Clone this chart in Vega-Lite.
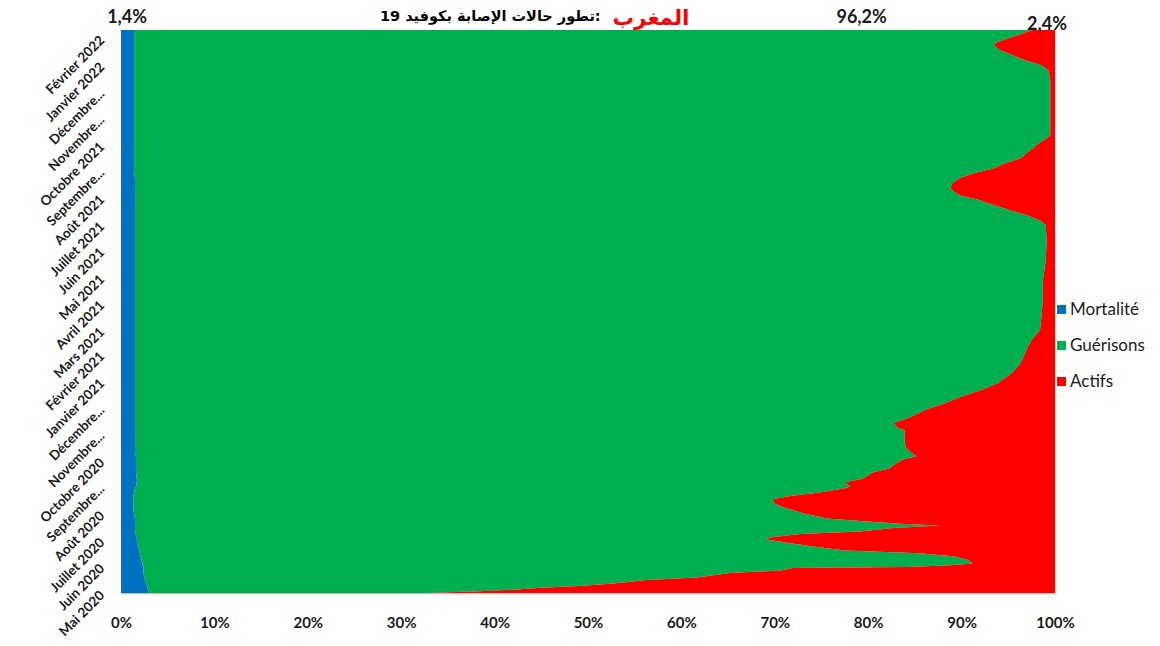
{
  "$schema": "https://vega.github.io/schema/vega-lite/v6.json",
  "width": 934,
  "height": 563,
  "autosize": {"type": "none"},
  "padding": {"left": 121, "top": 30, "right": 105, "bottom": 53},
  "background": "white",
  "title": {
    "text": "\u200f:تطور حالات الإصابة بكوفيد 19",
    "anchor": "start",
    "frame": "group",
    "dx": 259,
    "dy": 21,
    "offset": 4,
    "font": "DejaVu Sans",
    "fontSize": 14.5,
    "fontWeight": "bold",
    "color": "#000000"
  },
  "data": {
    "values": [
      {"date": "2020-05-01", "Mortalité": 0.029, "Guérisons": 0.299, "Actifs": 0.672},
      {"date": "2020-05-03", "Mortalité": 0.029, "Guérisons": 0.355, "Actifs": 0.616},
      {"date": "2020-05-05", "Mortalité": 0.029, "Guérisons": 0.395, "Actifs": 0.576},
      {"date": "2020-05-07", "Mortalité": 0.028, "Guérisons": 0.421, "Actifs": 0.551},
      {"date": "2020-05-09", "Mortalité": 0.028, "Guérisons": 0.463, "Actifs": 0.509},
      {"date": "2020-05-12", "Mortalité": 0.027, "Guérisons": 0.500, "Actifs": 0.473},
      {"date": "2020-05-16", "Mortalité": 0.026, "Guérisons": 0.537, "Actifs": 0.437},
      {"date": "2020-05-19", "Mortalité": 0.025, "Guérisons": 0.592, "Actifs": 0.383},
      {"date": "2020-05-24", "Mortalité": 0.024, "Guérisons": 0.628, "Actifs": 0.348},
      {"date": "2020-05-27", "Mortalité": 0.024, "Guérisons": 0.682, "Actifs": 0.294},
      {"date": "2020-05-30", "Mortalité": 0.024, "Guérisons": 0.695, "Actifs": 0.281},
      {"date": "2020-05-31", "Mortalité": 0.024, "Guérisons": 0.818, "Actifs": 0.158},
      {"date": "2020-06-02", "Mortalité": 0.023, "Guérisons": 0.865, "Actifs": 0.112},
      {"date": "2020-06-04", "Mortalité": 0.023, "Guérisons": 0.889, "Actifs": 0.088},
      {"date": "2020-06-08", "Mortalité": 0.022, "Guérisons": 0.885, "Actifs": 0.093},
      {"date": "2020-06-12", "Mortalité": 0.021, "Guérisons": 0.872, "Actifs": 0.107},
      {"date": "2020-06-16", "Mortalité": 0.020, "Guérisons": 0.835, "Actifs": 0.145},
      {"date": "2020-06-19", "Mortalité": 0.020, "Guérisons": 0.755, "Actifs": 0.225},
      {"date": "2020-06-22", "Mortalité": 0.019, "Guérisons": 0.735, "Actifs": 0.246},
      {"date": "2020-06-25", "Mortalité": 0.018, "Guérisons": 0.714, "Actifs": 0.268},
      {"date": "2020-06-28", "Mortalité": 0.017, "Guérisons": 0.696, "Actifs": 0.287},
      {"date": "2020-07-02", "Mortalité": 0.017, "Guérisons": 0.673, "Actifs": 0.310},
      {"date": "2020-07-04", "Mortalité": 0.016, "Guérisons": 0.679, "Actifs": 0.305},
      {"date": "2020-07-08", "Mortalité": 0.016, "Guérisons": 0.711, "Actifs": 0.273},
      {"date": "2020-07-11", "Mortalité": 0.015, "Guérisons": 0.776, "Actifs": 0.209},
      {"date": "2020-07-15", "Mortalité": 0.015, "Guérisons": 0.812, "Actifs": 0.173},
      {"date": "2020-07-18", "Mortalité": 0.015, "Guérisons": 0.862, "Actifs": 0.123},
      {"date": "2020-07-20", "Mortalité": 0.015, "Guérisons": 0.819, "Actifs": 0.166},
      {"date": "2020-07-23", "Mortalité": 0.015, "Guérisons": 0.776, "Actifs": 0.209},
      {"date": "2020-07-26", "Mortalité": 0.015, "Guérisons": 0.741, "Actifs": 0.244},
      {"date": "2020-08-01", "Mortalité": 0.014, "Guérisons": 0.716, "Actifs": 0.270},
      {"date": "2020-08-08", "Mortalité": 0.013, "Guérisons": 0.696, "Actifs": 0.291},
      {"date": "2020-08-12", "Mortalité": 0.013, "Guérisons": 0.687, "Actifs": 0.300},
      {"date": "2020-08-17", "Mortalité": 0.013, "Guérisons": 0.684, "Actifs": 0.303},
      {"date": "2020-08-21", "Mortalité": 0.013, "Guérisons": 0.703, "Actifs": 0.284},
      {"date": "2020-08-25", "Mortalité": 0.014, "Guérisons": 0.734, "Actifs": 0.252},
      {"date": "2020-08-30", "Mortalité": 0.015, "Guérisons": 0.760, "Actifs": 0.225},
      {"date": "2020-09-01", "Mortalité": 0.016, "Guérisons": 0.765, "Actifs": 0.219},
      {"date": "2020-09-06", "Mortalité": 0.017, "Guérisons": 0.758, "Actifs": 0.225},
      {"date": "2020-09-10", "Mortalité": 0.017, "Guérisons": 0.777, "Actifs": 0.206},
      {"date": "2020-09-17", "Mortalité": 0.016, "Guérisons": 0.789, "Actifs": 0.195},
      {"date": "2020-09-22", "Mortalité": 0.016, "Guérisons": 0.807, "Actifs": 0.177},
      {"date": "2020-09-27", "Mortalité": 0.016, "Guérisons": 0.813, "Actifs": 0.171},
      {"date": "2020-10-02", "Mortalité": 0.016, "Guérisons": 0.821, "Actifs": 0.163},
      {"date": "2020-10-06", "Mortalité": 0.016, "Guérisons": 0.836, "Actifs": 0.148},
      {"date": "2020-10-09", "Mortalité": 0.015, "Guérisons": 0.832, "Actifs": 0.153},
      {"date": "2020-10-16", "Mortalité": 0.015, "Guérisons": 0.825, "Actifs": 0.160},
      {"date": "2020-10-24", "Mortalité": 0.015, "Guérisons": 0.824, "Actifs": 0.161},
      {"date": "2020-11-05", "Mortalité": 0.015, "Guérisons": 0.824, "Actifs": 0.161},
      {"date": "2020-11-08", "Mortalité": 0.015, "Guérisons": 0.816, "Actifs": 0.169},
      {"date": "2020-11-13", "Mortalité": 0.015, "Guérisons": 0.812, "Actifs": 0.173},
      {"date": "2020-11-20", "Mortalité": 0.015, "Guérisons": 0.830, "Actifs": 0.155},
      {"date": "2020-11-28", "Mortalité": 0.015, "Guérisons": 0.845, "Actifs": 0.140},
      {"date": "2020-12-06", "Mortalité": 0.015, "Guérisons": 0.867, "Actifs": 0.118},
      {"date": "2020-12-13", "Mortalité": 0.015, "Guérisons": 0.883, "Actifs": 0.102},
      {"date": "2020-12-21", "Mortalité": 0.015, "Guérisons": 0.905, "Actifs": 0.080},
      {"date": "2020-12-29", "Mortalité": 0.015, "Guérisons": 0.923, "Actifs": 0.062},
      {"date": "2021-01-04", "Mortalité": 0.015, "Guérisons": 0.931, "Actifs": 0.054},
      {"date": "2021-01-10", "Mortalité": 0.015, "Guérisons": 0.939, "Actifs": 0.046},
      {"date": "2021-01-21", "Mortalité": 0.015, "Guérisons": 0.948, "Actifs": 0.037},
      {"date": "2021-02-02", "Mortalité": 0.015, "Guérisons": 0.953, "Actifs": 0.032},
      {"date": "2021-02-09", "Mortalité": 0.015, "Guérisons": 0.956, "Actifs": 0.029},
      {"date": "2021-02-17", "Mortalité": 0.015, "Guérisons": 0.960, "Actifs": 0.025},
      {"date": "2021-03-01", "Mortalité": 0.015, "Guérisons": 0.969, "Actifs": 0.016},
      {"date": "2021-03-12", "Mortalité": 0.015, "Guérisons": 0.970, "Actifs": 0.015},
      {"date": "2021-04-04", "Mortalité": 0.015, "Guérisons": 0.972, "Actifs": 0.013},
      {"date": "2021-04-27", "Mortalité": 0.015, "Guérisons": 0.972, "Actifs": 0.013},
      {"date": "2021-05-20", "Mortalité": 0.015, "Guérisons": 0.975, "Actifs": 0.010},
      {"date": "2021-06-12", "Mortalité": 0.015, "Guérisons": 0.976, "Actifs": 0.009},
      {"date": "2021-06-30", "Mortalité": 0.015, "Guérisons": 0.975, "Actifs": 0.010},
      {"date": "2021-07-05", "Mortalité": 0.015, "Guérisons": 0.969, "Actifs": 0.016},
      {"date": "2021-07-11", "Mortalité": 0.015, "Guérisons": 0.955, "Actifs": 0.030},
      {"date": "2021-07-17", "Mortalité": 0.015, "Guérisons": 0.937, "Actifs": 0.048},
      {"date": "2021-07-23", "Mortalité": 0.015, "Guérisons": 0.919, "Actifs": 0.066},
      {"date": "2021-07-29", "Mortalité": 0.015, "Guérisons": 0.903, "Actifs": 0.082},
      {"date": "2021-08-03", "Mortalité": 0.015, "Guérisons": 0.883, "Actifs": 0.102},
      {"date": "2021-08-08", "Mortalité": 0.015, "Guérisons": 0.876, "Actifs": 0.109},
      {"date": "2021-08-12", "Mortalité": 0.015, "Guérisons": 0.873, "Actifs": 0.112},
      {"date": "2021-08-17", "Mortalité": 0.015, "Guérisons": 0.875, "Actifs": 0.110},
      {"date": "2021-08-23", "Mortalité": 0.015, "Guérisons": 0.883, "Actifs": 0.102},
      {"date": "2021-08-29", "Mortalité": 0.014, "Guérisons": 0.900, "Actifs": 0.086},
      {"date": "2021-09-03", "Mortalité": 0.014, "Guérisons": 0.920, "Actifs": 0.066},
      {"date": "2021-09-09", "Mortalité": 0.014, "Guérisons": 0.932, "Actifs": 0.054},
      {"date": "2021-09-15", "Mortalité": 0.014, "Guérisons": 0.949, "Actifs": 0.037},
      {"date": "2021-09-24", "Mortalité": 0.014, "Guérisons": 0.959, "Actifs": 0.027},
      {"date": "2021-10-03", "Mortalité": 0.014, "Guérisons": 0.970, "Actifs": 0.016},
      {"date": "2021-10-11", "Mortalité": 0.014, "Guérisons": 0.981, "Actifs": 0.005},
      {"date": "2021-10-29", "Mortalité": 0.014, "Guérisons": 0.981, "Actifs": 0.005},
      {"date": "2021-11-21", "Mortalité": 0.014, "Guérisons": 0.981, "Actifs": 0.005},
      {"date": "2021-12-14", "Mortalité": 0.014, "Guérisons": 0.981, "Actifs": 0.005},
      {"date": "2021-12-25", "Mortalité": 0.014, "Guérisons": 0.979, "Actifs": 0.007},
      {"date": "2021-12-31", "Mortalité": 0.014, "Guérisons": 0.972, "Actifs": 0.014},
      {"date": "2022-01-06", "Mortalité": 0.014, "Guérisons": 0.954, "Actifs": 0.032},
      {"date": "2022-01-12", "Mortalité": 0.014, "Guérisons": 0.940, "Actifs": 0.046},
      {"date": "2022-01-18", "Mortalité": 0.014, "Guérisons": 0.927, "Actifs": 0.059},
      {"date": "2022-01-24", "Mortalité": 0.014, "Guérisons": 0.920, "Actifs": 0.066},
      {"date": "2022-01-27", "Mortalité": 0.014, "Guérisons": 0.924, "Actifs": 0.062},
      {"date": "2022-02-03", "Mortalité": 0.014, "Guérisons": 0.943, "Actifs": 0.043},
      {"date": "2022-02-10", "Mortalité": 0.014, "Guérisons": 0.962, "Actifs": 0.024}
    ]
  },
  "transform": [
    {"fold": ["Mortalité", "Guérisons", "Actifs"], "as": ["serie", "value"]}
  ],
  "layer": [
    {
      "mark": {"type": "area", "orient": "horizontal", "interpolate": "linear"},
      "encoding": {
        "y": {
          "field": "date",
          "type": "temporal",
          "scale": {
            "type": "utc",
            "domain": [
              {"year": 2020, "month": 5, "date": 1, "utc": true},
              {"year": 2022, "month": 2, "date": 10, "utc": true}
            ]
          },
          "axis": {
            "title": "المغرب",
            "titleAngle": 0,
            "titleX": 491,
            "titleY": -12,
            "titleAlign": "left",
            "titleBaseline": "middle",
            "titleColor": "#ff0000",
            "titleFont": "DejaVu Sans",
            "titleFontSize": 21.5,
            "titleFontWeight": "bold",
            "tickCount": {"interval": "month", "step": 1},
            "format": "%B %Y",
            "labelExpr": "length(datum.label) > 12 ? split(datum.label, ' ')[0] + '...' : datum.label",
            "labelAngle": -45,
            "labelAlign": "right",
            "labelBaseline": "middle",
            "labelFont": "Lato",
            "labelFontSize": 13.5,
            "labelFontWeight": "bold",
            "labelColor": "#1a1a1a",
            "labelPadding": 19,
            "labelOverlap": false,
            "labelFlush": false,
            "labelBound": false,
            "labelLimit": 200,
            "ticks": false,
            "domain": false,
            "grid": false
          }
        },
        "x": {
          "field": "value",
          "type": "quantitative",
          "stack": "normalize",
          "scale": {"domain": [0, 1]},
          "axis": {
            "title": null,
            "format": ".0%",
            "tickCount": 10,
            "labelFont": "Lato",
            "labelFontSize": 15,
            "labelFontWeight": "bold",
            "labelColor": "#1a1a1a",
            "labelPadding": 22,
            "labelFlush": false,
            "ticks": false,
            "grid": false,
            "domain": true,
            "domainColor": "#bfbfbf",
            "domainWidth": 1.5
          }
        },
        "color": {
          "field": "serie",
          "type": "nominal",
          "scale": {
            "domain": ["Mortalité", "Guérisons", "Actifs"],
            "range": ["#0070c0", "#00b050", "#ff0000"]
          },
          "legend": {
            "orient": "none",
            "legendX": 932,
            "legendY": 271,
            "title": null,
            "symbolType": "square",
            "symbolSize": 81,
            "symbolStrokeWidth": 0,
            "labelFont": "Lato",
            "labelFontSize": 17,
            "labelColor": "#1a1a1a",
            "labelOffset": 0,
            "rowPadding": 18,
            "padding": 0
          }
        },
        "order": {"field": "serie", "sort": "descending"}
      }
    },
    {
      "transform": [
        {"filter": {"field": "date", "gte": {"year": 2022, "month": 2, "date": 9, "utc": true}}}
      ],
      "mark": {
        "type": "text",
        "font": "Lato",
        "fontSize": 18,
        "fontWeight": "bold",
        "color": "#1a1a1a",
        "align": "center",
        "baseline": "middle",
        "dx": {"expr": "datum.serie === 'Guérisons' ? -171 : datum.serie === 'Actifs' ? -8 : -7"},
        "dy": {"expr": "datum.serie === 'Actifs' ? -5 : -12"}
      },
      "encoding": {
        "y": {"field": "date", "type": "temporal"},
        "x": {"field": "value", "type": "quantitative", "stack": "normalize"},
        "detail": {"field": "serie"},
        "order": {"field": "serie", "sort": "descending"},
        "text": {"field": "value", "format": ".1%"}
      }
    }
  ],
  "config": {
    "view": {"stroke": null},
    "font": "Lato",
    "locale": {
      "number": {"decimal": ",", "thousands": " ", "grouping": [3], "currency": ["", " €"]},
      "time": {
        "dateTime": "%A %e %B %Y à %X",
        "date": "%d/%m/%Y",
        "time": "%H:%M:%S",
        "periods": ["AM", "PM"],
        "days": ["dimanche", "lundi", "mardi", "mercredi", "jeudi", "vendredi", "samedi"],
        "shortDays": ["dim.", "lun.", "mar.", "mer.", "jeu.", "ven.", "sam."],
        "months": ["Janvier", "Février", "Mars", "Avril", "Mai", "Juin", "Juillet", "Août", "Septembre", "Octobre", "Novembre", "Décembre"],
        "shortMonths": ["janv.", "févr.", "mars", "avr.", "mai", "juin", "juil.", "août", "sept.", "oct.", "nov.", "déc."]
      }
    }
  }
}
